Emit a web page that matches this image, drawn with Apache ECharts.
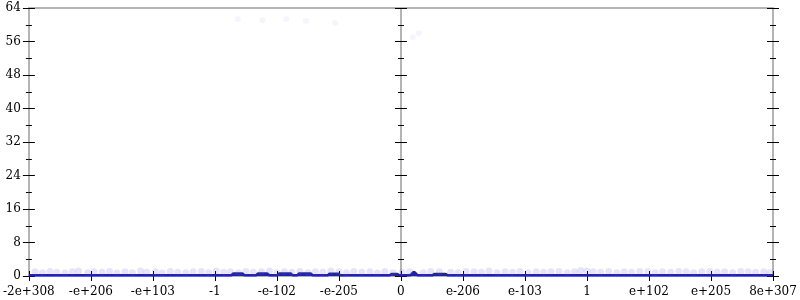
<!DOCTYPE html>
<html>
<head>
<meta charset="utf-8">
<script src="https://cdn.jsdelivr.net/npm/echarts@6/dist/echarts.min.js"></script>
<style>html,body{margin:0;padding:0;background:#fff}#c{width:800px;height:300px}</style>
</head>
<body>
<div id="c"></div>
<script>
var tickLabels = ["-2e+308","-e+206","-e+103","-1","-e-102","-e-205","0","e-206","e-103","1","e+102","e+205","8e+307"];
var yTicks = [0, 64, 8];

var scatterX = [-5.9,-5.78,-5.66,-5.55,-5.42,-5.3,-5.2,-5.05,-4.95,-4.82,-4.7,-4.58,-4.45,-4.33,-4.2,-4.1,-3.96,-3.85,-3.72,-3.6,-3.47,-3.35,-3.22,-3.1,-2.98,-2.86,-2.75,-2.62,-2.5,-2.38,-2.25,-2.12,-2.0,-1.88,-1.76,-1.63,-1.5,-1.38,-1.26,-1.13,-1.0,-0.88,-0.76,-0.63,-0.5,-0.38,-0.26,-0.13,0.02,0.14,0.36,0.48,0.62,0.8,0.92,1.05,1.18,1.3,1.42,1.55,1.68,1.8,1.92,2.05,2.18,2.3,2.42,2.55,2.68,2.8,2.9,3.0,3.1,3.22,3.35,3.48,3.6,3.72,3.85,3.98,4.1,4.22,4.35,4.48,4.6,4.72,4.85,4.98,5.1,5.22,5.35,5.48,5.6,5.72,5.85,5.95];
var scatterY = [1.0,0.8,1.1,0.9,0.7,1.0,1.2,0.8,1.0,0.9,1.1,0.7,1.0,0.8,1.2,0.9,1.0,0.7,1.1,0.9,0.8,1.0,1.1,0.8,1.2,0.9,1.0,0.8,1.1,0.9,1.0,1.2,0.8,1.0,0.9,1.1,0.8,1.0,0.9,1.2,1.0,0.8,1.1,0.9,1.0,0.7,1.1,0.8,0.9,1.0,0.8,1.1,1.0,0.9,0.8,1.1,1.0,0.9,1.2,0.8,1.0,0.9,1.1,0.8,1.0,0.9,1.0,1.1,0.8,1.0,1.3,1.2,1.0,0.9,1.1,0.8,1.0,0.9,1.1,1.0,0.8,1.0,0.9,1.1,1.0,0.8,1.0,1.1,0.9,1.0,0.8,1.1,1.0,0.9,1.0,0.8];
var highX = [-2.63,-2.23,-1.85,-1.53,-1.06,0.19,0.29];
var highY = [61.4,61.1,61.4,60.9,60.4,57.0,58.0];

var lineX = [-6,-2.74,-2.70,-2.56,-2.52,-2.34,-2.30,-2.16,-2.12,-2.00,-1.96,-1.78,-1.74,-1.68,-1.64,-1.46,-1.42,-1.19,-1.15,-1.01,-0.97,-0.19,-0.15,-0.06,-0.02,0.14,0.21,0.28,0.50,0.54,0.72,0.76,6];
var lineY = [0.15,0.15,0.6,0.6,0.15,0.15,0.6,0.6,0.15,0.15,0.6,0.6,0.15,0.15,0.6,0.6,0.15,0.15,0.55,0.55,0.15,0.15,0.45,0.45,0.15,0.15,0.95,0.15,0.15,0.45,0.45,0.15,0.15];

var scatterData = scatterX.map(function(x,i){return [x, scatterY[i]];});
var highData = highX.map(function(x,i){return [x, highY[i]];});
var lineData = lineX.map(function(x,i){return [x, lineY[i]];});

var FONT = {fontFamily:'DejaVu Serif', fontSize:12, color:'#000'};
var GREY = '#b4b4b4';
function xAx(inside, labels, pos, showLine, showTick){
  return {type:'value', min:-6, max:6, interval:1, position:pos,
    axisLine:{show:showLine, onZero:false, lineStyle:{color:GREY, width:2}},
    axisTick:{show:showTick, inside:inside, length:5, lineStyle:{color:'#000', width:1}},
    axisLabel:labels ? Object.assign({show:true, margin:10, formatter:function(v){return tickLabels[Math.round(v+6)];}}, FONT) : {show:false},
    splitLine:{show:false}};
}
function yAx(inside, labels, pos, onZero, showLine){
  return {type:'value', min:yTicks[0], max:yTicks[1], interval:yTicks[2], position:pos,
    axisLine:{show:showLine, onZero:onZero, lineStyle:{color:GREY, width:2}},
    axisTick:{show:true, inside:inside, length:6, lineStyle:{color:'#000', width:1}},
    minorTick:{show:true, splitNumber:2, length:3, lineStyle:{color:'#000', width:1}},
    axisLabel:labels ? Object.assign({show:true, margin:8}, FONT) : {show:false},
    splitLine:{show:false}, minorSplitLine:{show:false}};
}
var chart = echarts.init(document.getElementById('c'), null, {renderer:'canvas'});
chart.setOption({
  animation:false,
  grid:{left:28, right:27, top:8, bottom:24, containLabel:false},
  xAxis:[xAx(false,true,'bottom',true,true), xAx(true,false,'bottom',false,true), xAx(false,false,'top',true,false)],
  yAxis:[yAx(false,true,'left',false,true), yAx(true,false,'left',false,false),
         yAx(false,false,'right',false,true), yAx(true,false,'right',false,false),
         yAx(false,false,'left',true,true), yAx(true,false,'left',true,false)],
  series:[
    {type:'line', xAxisIndex:0, yAxisIndex:0, data:lineData, symbol:'none', smooth:0.3,
     lineStyle:{color:'#2020a8', width:2.5}, areaStyle:{color:'#2020a8', opacity:1}, z:2},
    {type:'scatter', xAxisIndex:0, yAxisIndex:0, data:scatterData, symbolSize:7,
     itemStyle:{color:'rgba(90,90,240,0.2)'}, z:3},
    {type:'scatter', xAxisIndex:0, yAxisIndex:0, data:highData, symbolSize:6,
     itemStyle:{color:'rgba(90,90,240,0.08)'}, z:3}
  ]
});
</script>
</body>
</html>
